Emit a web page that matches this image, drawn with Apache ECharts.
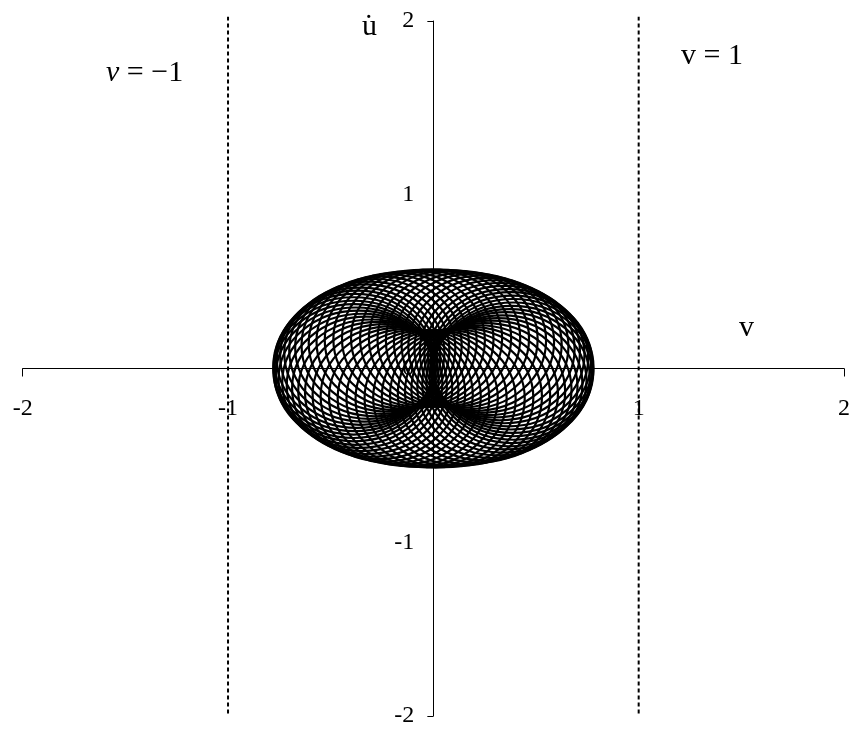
<!DOCTYPE html>
<html>
<head>
<meta charset="utf-8">
<script src="https://cdn.jsdelivr.net/npm/echarts@6/dist/echarts.min.js"></script>
<style>
  html, body { margin: 0; padding: 0; background: #fff; }
  #chart { width: 850px; height: 729px; }
</style>
</head>
<body>
<div id="chart"></div>
<script>
// Axis labels and the tick marks at the axis ends
const xLabelValues = [-2, -1, 1, 2];
const yLabelValues = [-2, -1, 0, 1, 2];
const endTicks = [-2, 2];

// Limits v = -1 and v = 1 (vertical extent of the dotted lines)
const limitV = [-1, 1];
const limitSpan = [-1.985, 2.025];

// Phase trajectory: centre (v, u̇) of each fast loop over half a slow cycle;
// the other half is the same set reflected through the origin.
const loopCxHalf = [0.390, 0.386, 0.378, 0.364, 0.346, 0.324, 0.298, 0.268, 0.235, 0.198,
  0.159, 0.118, 0.076, 0.033, -0.011, -0.055, -0.097, -0.139, -0.179, -0.217,
  -0.252, -0.283, -0.312, -0.336, -0.356, -0.372, -0.383, -0.389];
const loopCyHalf = [0.005, 0.024, 0.044, 0.062, 0.080, 0.097, 0.113, 0.127, 0.140, 0.151,
  0.160, 0.167, 0.172, 0.174, 0.175, 0.173, 0.169, 0.163, 0.155, 0.146,
  0.134, 0.120, 0.105, 0.089, 0.071, 0.053, 0.034, 0.015];
// half-width (in v) and half-height (in u̇) of a loop
const loopHalfWidth = 0.39;
const loopHalfHeight = 0.395;

const loops = loopCxHalf.map((cx, i) => [cx, loopCyHalf[i]])
  .concat(loopCxHalf.map((cx, i) => [-cx, -loopCyHalf[i]]));

const serif = '"Liberation Serif", "Times New Roman", serif';
const AXIS_RANGE = { min: -2, max: 2, interval: 1 };

const chart = echarts.init(document.getElementById('chart'), null, { renderer: 'canvas' });

// plot area, and the two strips whose edges carry the axes through the origin
const plotBox = { left: 22.7, right: 6, top: 21, bottom: 13 };
const zeroY = plotBox.top + (729 - plotBox.top - plotBox.bottom) / 2;
const zeroX = plotBox.left + (850 - plotBox.left - plotBox.right) / 2;

const hiddenAxis = Object.assign({ type: 'value', show: false }, AXIS_RANGE);

function limitLine(v) {
  return {
    type: 'line',
    xAxisIndex: 0, yAxisIndex: 0,
    data: [[v, limitSpan[0]], [v, limitSpan[1]]],
    symbol: 'none',
    silent: true,
    clip: false,
    z: 3,
    lineStyle: { color: '#000', width: 2, type: [4, 3] }
  };
}

const labelStyle = { color: '#000', fontFamily: serif, fontSize: 24, formatter: v => String(v) };

chart.setOption({
  animation: false,
  backgroundColor: '#fff',
  grid: [
    Object.assign({ containLabel: false, outerBoundsMode: 'none' }, plotBox),
    { left: plotBox.left, right: plotBox.right, top: plotBox.top, bottom: 729 - zeroY, containLabel: false, outerBoundsMode: 'none' },
    { left: zeroX, right: plotBox.right, top: plotBox.top, bottom: plotBox.bottom, containLabel: false, outerBoundsMode: 'none' }
  ],
  xAxis: [
    Object.assign({ gridIndex: 0 }, hiddenAxis),
    Object.assign({
      type: 'value', gridIndex: 1, position: 'bottom',
      splitLine: { show: false },
      axisLine: { onZero: false, lineStyle: { color: '#000', width: 1 } },
      axisTick: { show: true, inside: false, length: 8, customValues: endTicks, lineStyle: { color: '#000' } },
      axisLabel: Object.assign({ customValues: xLabelValues, margin: 28 }, labelStyle)
    }, AXIS_RANGE),
    Object.assign({ gridIndex: 2 }, hiddenAxis)
  ],
  yAxis: [
    Object.assign({ gridIndex: 0 }, hiddenAxis),
    Object.assign({ gridIndex: 1 }, hiddenAxis),
    Object.assign({
      type: 'value', gridIndex: 2, position: 'left',
      splitLine: { show: false },
      axisLine: { onZero: false, lineStyle: { color: '#000', width: 1 } },
      axisTick: { show: true, inside: false, length: 6, customValues: endTicks, lineStyle: { color: '#000' } },
      axisLabel: Object.assign({ customValues: yLabelValues, margin: 19 }, labelStyle)
    }, AXIS_RANGE)
  ],
  graphic: [
    {
      type: 'text', left: 106, top: 58, z: 10,
      style: {
        text: '{i|v} = −1',
        font: '30px ' + serif, fill: '#000',
        rich: { i: { fontStyle: 'italic', fontFamily: serif, fontSize: 30 } }
      }
    },
    { type: 'text', left: 681, top: 41, z: 10, style: { text: 'v = 1', font: '30px ' + serif, fill: '#000' } },
    { type: 'text', left: 362, top: 12, z: 10, style: { text: 'u\u0307', font: '30px ' + serif, fill: '#000' } },
    { type: 'text', left: 739, top: 313, z: 10, style: { text: 'v', font: '30px ' + serif, fill: '#000' } }
  ],
  series: [
    {
      type: 'custom',
      coordinateSystem: 'cartesian2d',
      xAxisIndex: 0, yAxisIndex: 0,
      data: loops,
      z: 5,
      silent: true,
      renderItem: (params, api) => {
        const c = api.coord([api.value(0), api.value(1)]);
        const sz = api.size([loopHalfWidth, loopHalfHeight]);
        return {
          type: 'ellipse',
          shape: { cx: c[0], cy: c[1], rx: sz[0], ry: sz[1] },
          style: { fill: null, stroke: '#000', lineWidth: 2.2 }
        };
      }
    },
    limitLine(limitV[0]),
    limitLine(limitV[1])
  ]
});
</script>
</body>
</html>
